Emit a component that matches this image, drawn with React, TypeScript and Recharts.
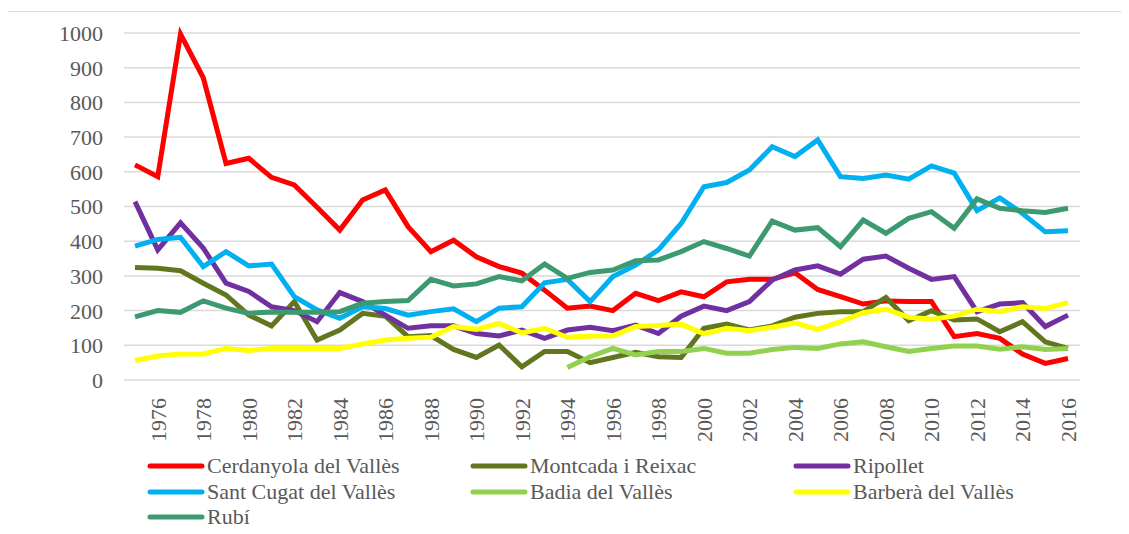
import React from 'react';
import { LineChart, Line, XAxis, YAxis, CartesianGrid } from 'recharts';

const years = [1975,1976,1977,1978,1979,1980,1981,1982,1983,1984,1985,1986,1987,1988,1989,1990,1991,1992,1993,1994,1995,1996,1997,1998,1999,2000,2001,2002,2003,2004,2005,2006,2007,2008,2009,2010,2011,2012,2013,2014,2015,2016];
const tickLabels = [1976,1978,1980,1982,1984,1986,1988,1990,1992,1994,1996,1998,2000,2002,2004,2006,2008,2010,2012,2014,2016];
const yTicks = [0,100,200,300,400,500,600,700,800,900,1000];

const cerdanyola = [620,586,997,871,624,639,584,562,498,432,519,548,442,370,403,355,327,308,259,207,213,200,250,229,254,240,283,290,290,309,261,240,219,228,226,226,125,134,120,75,48,62];
const montcada = [324,322,315,279,245,187,156,226,115,144,192,184,125,128,88,65,101,38,82,82,50,65,80,67,65,149,161,144,156,181,192,197,197,238,171,200,173,176,139,168,110,91];
const ripollet = [514,375,453,380,279,255,211,200,168,252,226,187,149,156,156,134,127,144,120,144,152,142,158,134,184,213,200,226,288,317,329,305,348,357,322,290,298,197,219,223,154,187];
const santCugat = [386,405,411,327,370,329,334,240,202,178,211,206,187,197,205,168,207,211,280,290,226,298,331,375,451,557,569,605,672,644,692,586,581,591,579,617,596,488,525,480,427,430];
const badia = [null,null,null,null,null,null,null,null,null,null,null,null,null,null,null,null,null,null,null,36,67,91,72,82,82,91,77,77,88,94,91,104,110,96,82,91,98,98,89,96,88,91];
const barbera = [56,69,75,75,91,85,91,91,91,91,104,115,120,123,154,146,163,136,149,123,127,127,154,157,161,133,149,142,152,165,146,168,194,204,181,175,184,204,197,211,206,223];
const rubi = [182,200,195,228,207,192,196,195,195,197,221,226,229,290,271,277,298,286,334,293,310,317,344,346,370,399,379,357,458,432,439,384,461,423,466,485,437,522,495,488,483,495];

const seriesNames = ['Cerdanyola del Vallès','Montcada i Reixac','Ripollet','Sant Cugat del Vallès','Badia del Vallès','Barberà del Vallès','Rubí'];
const seriesValues = [cerdanyola, montcada, ripollet, santCugat, badia, barbera, rubi];
const seriesColors = ['#ff0000','#62761f','#7030a0','#00b0f0','#92d050','#ffff00','#3c9970'];
const seriesKeys = ['s0','s1','s2','s3','s4','s5','s6'];

const data = years.map((y, i) => {
  const row: any = { year: y };
  seriesKeys.forEach((k, j) => { row[k] = seriesValues[j][i]; });
  return row;
});

const FONT = 'Liberation Serif, DejaVu Serif, serif';
const TEXT = '#595959';

const XTick = (props: any) => {
  const { x, y, payload } = props;
  if (!tickLabels.includes(Number(payload.value))) return null;
  return (
    <text x={x} y={y + 10} dy="0.36em" textAnchor="end" fill={TEXT} fontSize={22}
      style={{ fontFamily: FONT }}
      transform={`rotate(-90, ${x}, ${y + 10})`}>{payload.value}</text>
  );
};

const YTick = (props: any) => {
  const { x, y, payload } = props;
  return (
    <text x={x - 8} y={y} dy="0.36em" textAnchor="end" fill={TEXT} fontSize={22} style={{ fontFamily: FONT }}>{payload.value}</text>
  );
};

const legendCols = [139, 462, 785];
const legendRows = [458, 484, 509];

export default function App() {
  return (
    <div style={{ position: 'relative', width: 1121, height: 520, fontFamily: FONT }}>
      <div style={{ position: 'absolute', left: -1, top: 3, width: 1130, height: 530, borderTop: '1.5px solid #d9d9d9', borderLeft: '1.5px solid #d9d9d9', boxSizing: 'border-box', pointerEvents: 'none' }} />
      <div style={{ position: 'absolute', left: 0, top: 0 }}>
        <LineChart width={1121} height={446} data={data} margin={{ top: 25, right: 49, bottom: 0, left: 0 }}>
          <CartesianGrid vertical={false} stroke="#d9d9d9" strokeWidth={1.5} />
          <XAxis dataKey="year" interval={0} axisLine={false} tickLine={false} height={74} tick={<XTick />}
            padding={{ left: 11, right: 12 }} />
          <YAxis domain={[0, 1000]} ticks={yTicks} width={116} axisLine={false} tickLine={false} tickSize={0} tickMargin={13}
            tick={<YTick />} />
          {seriesKeys.map((k, j) => (
            <Line key={k} dataKey={k} name={seriesNames[j]} stroke={seriesColors[j]} strokeWidth={5} dot={false}
              isAnimationActive={false} connectNulls={false} strokeLinejoin="miter" />
          ))}
        </LineChart>
      </div>
      {seriesNames.map((n, j) => {
        const c = legendCols[j % 3];
        const r = legendRows[Math.floor(j / 3)];
        return (
          <div key={n} style={{ position: 'absolute', left: c, top: r - 13, height: 26, display: 'flex', alignItems: 'center' }}>
            <svg width={58} height={10} style={{ display: 'block' }}>
              <line x1={3} y1={5} x2={55} y2={5} stroke={seriesColors[j]} strokeWidth={5} strokeLinecap="round" />
            </svg>
            <span style={{ fontSize: 22, color: TEXT, marginLeft: 2, whiteSpace: 'nowrap', lineHeight: '26px', fontFamily: FONT }}>{n}</span>
          </div>
        );
      })}
    </div>
  );
}
